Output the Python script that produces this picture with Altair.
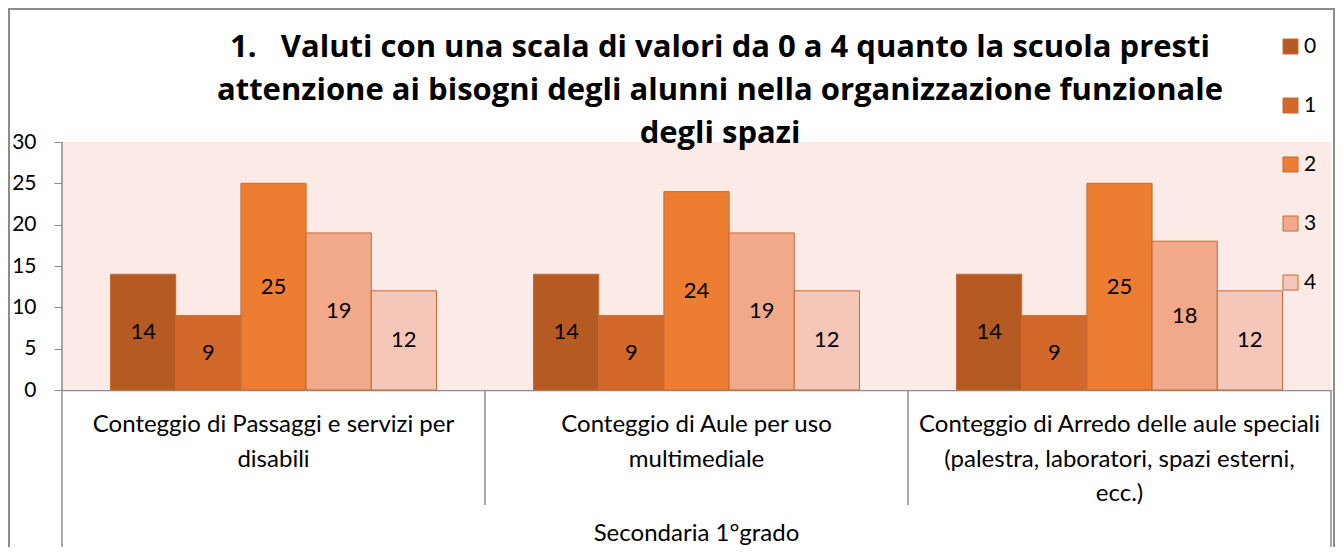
import altair as alt
import pandas as pd

categories = [
    "Conteggio di Passaggi e servizi per\ndisabili",
    "Conteggio di Aule per uso\nmultimediale",
    "Conteggio di Arredo delle aule speciali\n(palestra, laboratori, spazi esterni,\necc.)",
]
scores = ["0", "1", "2", "3", "4"]
values = [
    [14, 9, 25, 19, 12],
    [14, 9, 24, 19, 12],
    [14, 9, 25, 18, 12],
]
group_label = "Secondaria 1°grado"
title_lines = [
    "1.\u00a0\u00a0\u00a0Valuti con una scala di valori da 0 a 4 quanto la scuola presti",
    "attenzione ai bisogni degli alunni nella organizzazione funzionale",
    "degli spazi",
]
colors = ["#B55A22", "#D2692A", "#ED7D31", "#F1A98A", "#F5C7B8"]

rows = []
for c, vals in zip(categories, values):
    for s, v in zip(scores, vals):
        rows.append({"cat": c, "score": s, "value": v})
df = pd.DataFrame(rows)
cat_df = pd.DataFrame({"cat": categories})
one = pd.DataFrame({"g": [group_label], "t": ["\n".join(title_lines)]})

W, H = 1269, 248
FONT = "Lato"
GRAY = "#8C8C8C"

xscale = alt.Scale(domain=categories, paddingInner=0, paddingOuter=0)
xoff = alt.Scale(domain=scores, paddingInner=0, paddingOuter=0.745)

base = alt.Chart(df)

plot_bg = alt.Chart(one).mark_rect(fill="#FBEAE5").encode(
    x=alt.value(0), x2=alt.value(W), y=alt.value(0), y2=alt.value(H)
)

bars = base.mark_bar(stroke="#C46A35", strokeWidth=1).encode(
    x=alt.X("cat:N", scale=xscale, sort=categories,
            axis=alt.Axis(labels=False, ticks=False, title=None, domainColor=GRAY, domainWidth=1.5, grid=False)),
    xOffset=alt.XOffset("score:N", scale=xoff, sort=scores),
    y=alt.Y("value:Q", scale=alt.Scale(domain=[0, 30], nice=False),
            axis=alt.Axis(values=[0, 5, 10, 15, 20, 25, 30], title=None, grid=False,
                          domainColor=GRAY, domainWidth=1.5, tickColor=GRAY, tickSize=8,
                          labelFont=FONT, labelFontSize=21, labelColor="#000000",
                          labelPadding=18)),
    color=alt.Color("score:N", scale=alt.Scale(domain=scores, range=colors),
                    legend=alt.Legend(orient="none", legendX=1218, legendY=-106, title=None,
                                      symbolType="square", symbolSize=225, symbolStrokeColor="#C46A35",
                                      symbolStrokeWidth=1, symbolOpacity=1, labelFont=FONT,
                                      labelFontSize=21, labelColor="#000000", rowPadding=37,
                                      labelOffset=3, padding=0)),
)

labels = base.transform_calculate(mid="datum.value / 2").mark_text(
    font=FONT, fontSize=22, color="#000000", baseline="middle"
).encode(
    x=alt.X("cat:N", scale=xscale, sort=categories),
    xOffset=alt.XOffset("score:N", scale=xoff, sort=scores),
    y=alt.Y("mid:Q"),
    text=alt.Text("value:Q"),
)

cat_text = alt.Chart(cat_df).mark_text(
    font=FONT, fontSize=24, color="#000000", baseline="top", lineBreak="\n", lineHeight=34.5
).encode(
    x=alt.X("cat:N", scale=xscale, sort=categories),
    y=alt.value(271),
    text="cat:N",
)

mid_seps = alt.Chart(cat_df).transform_filter(
    alt.datum.cat != categories[0]
).mark_rule(color=GRAY, strokeWidth=1.5).encode(
    x=alt.X("cat:N", scale=xscale, sort=categories, bandPosition=0),
    y=alt.value(H),
    y2=alt.value(363),
)

outer_left = alt.Chart(cat_df).transform_filter(
    alt.datum.cat == categories[0]
).mark_rule(color=GRAY, strokeWidth=1.5).encode(
    x=alt.X("cat:N", scale=xscale, sort=categories, bandPosition=0),
    y=alt.value(0),
    y2=alt.value(420),
)

outer_right = alt.Chart(cat_df).transform_filter(
    alt.datum.cat == categories[-1]
).mark_rule(color=GRAY, strokeWidth=1.5).encode(
    x=alt.X("cat:N", scale=xscale, sort=categories, bandPosition=1),
    y=alt.value(H),
    y2=alt.value(420),
)

group_text = alt.Chart(one).mark_text(
    font=FONT, fontSize=24, color="#000000", baseline="middle"
).encode(
    x=alt.value(W / 2),
    y=alt.value(392),
    text="g:N",
)

title_text = alt.Chart(one).mark_text(
    font="Open Sans", fontSize=31, fontWeight="bold", color="#000000", baseline="top",
    lineBreak="\n", lineHeight=43, align="center"
).encode(
    x=alt.value(658),
    y=alt.value(-109),
    text="t:N",
)

border = alt.Chart(one).mark_rect(
    fill=None, stroke=GRAY, strokeWidth=2
).encode(
    x=alt.value(-53),
    x2=alt.value(1272),
    y=alt.value(-133),
    y2=alt.value(430),
)

chart = alt.layer(
    border, plot_bg, bars, labels, cat_text, mid_seps, outer_left, outer_right, group_text, title_text
).properties(
    width=W,
    height=H,
    padding={"left": 54, "top": 134, "right": 4, "bottom": 157},
    autosize=alt.AutoSizeParams(type="none"),
    background="#FFFFFF",
).configure_view(stroke=None)

chart.save("out.html", embed_options={"renderer": "svg", "actions": False})
